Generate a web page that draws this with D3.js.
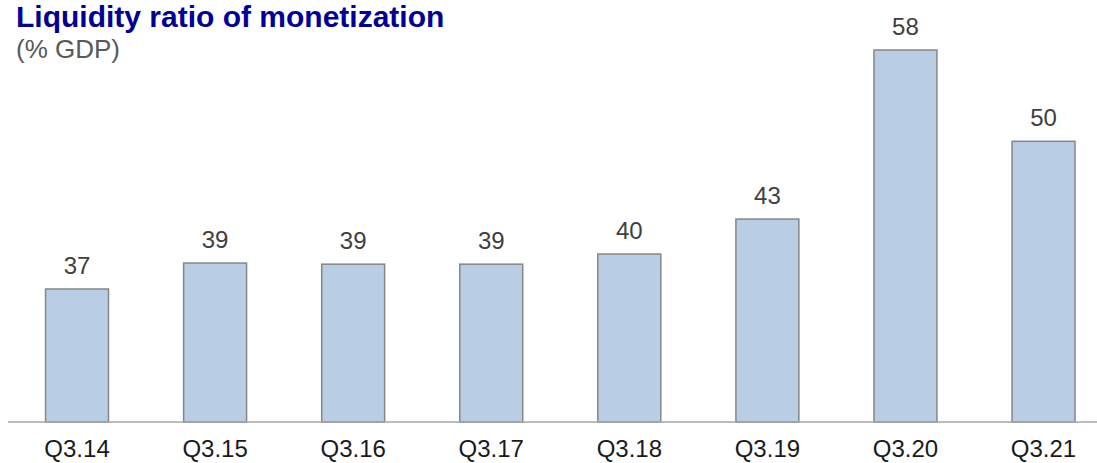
<!DOCTYPE html>
<html>
<head>
<meta charset="utf-8">
<script src="https://cdn.jsdelivr.net/npm/d3@7"></script>
<style>
  body { margin: 0; background: #fff; }
  text { font-family: "Liberation Sans", Arial, sans-serif; }
</style>
</head>
<body>
<div id="chart-container"></div>
<script>
var width = 1097
var height = 463

// quarters and values (% of GDP)
var quarters = ['Q3.14', 'Q3.15', 'Q3.16', 'Q3.17', 'Q3.18', 'Q3.19', 'Q3.20', 'Q3.21']
var ratio = [36.8, 39.1, 39.0, 39.0, 39.9, 43.0, 58.0, 49.9]

var baseY = 422
var step = 138.07

var svg = d3.select("#chart-container").append("svg").attr('width', width).attr('height', height)

svg.append("text").attr('x', 16).attr('y', 27).attr('font-size', 30).attr('font-weight', 'bold')
  .attr('fill', '#000099').text("Liquidity ratio of monetization")
svg.append("text").attr('x', 16).attr('y', 58).attr('font-size', 26).attr('fill', '#595959').text("(% GDP)")

var x = d3.scaleBand().domain(quarters).range([8, 8 + step * quarters.length]).paddingInner(0.544).paddingOuter(0.272)
var y = d3.scaleLinear().domain([25, 58]).range([baseY, 50])

var data = quarters.map(function(q, i) { return {q: q, v: ratio[i]} })

svg.selectAll(".bar").data(data).enter().append("rect")
  .attr("class", "bar")
  .attr("x", function(d) { return x(d.q) })
  .attr("y", function(d) { return y(d.v) })
  .attr("width", x.bandwidth())
  .attr("height", function(d) { return baseY - y(d.v) })
  .attr("fill", "#b9cde5")
  .attr("stroke", "#868686")
  .attr("stroke-width", 1.5)

svg.append("line").attr("x1", 8).attr("x2", width).attr("y1", baseY).attr("y2", baseY)
  .attr("stroke", "#a6a6a6").attr("stroke-width", 1.5)

svg.selectAll(".val").data(data).enter().append("text")
  .attr("class", "val")
  .attr("x", function(d) { return x(d.q) + x.bandwidth() / 2 })
  .attr("y", function(d) { return y(d.v) - 15 })
  .attr("text-anchor", "middle").attr("font-size", 24).attr("fill", "#404040")
  .text(function(d) { return d3.format(".0f")(d.v) })

var xAxis = svg.append("g").attr("transform", "translate(0," + baseY + ")")
  .call(d3.axisBottom(x).tickSize(0).tickPadding(0))
xAxis.select(".domain").remove()
xAxis.selectAll("text").attr("y", 35).attr("dy", 0).attr("font-size", 24)
  .attr("font-family", '"Liberation Sans", Arial, sans-serif').attr("fill", "#1a1a1a")
</script>
</body>
</html>
